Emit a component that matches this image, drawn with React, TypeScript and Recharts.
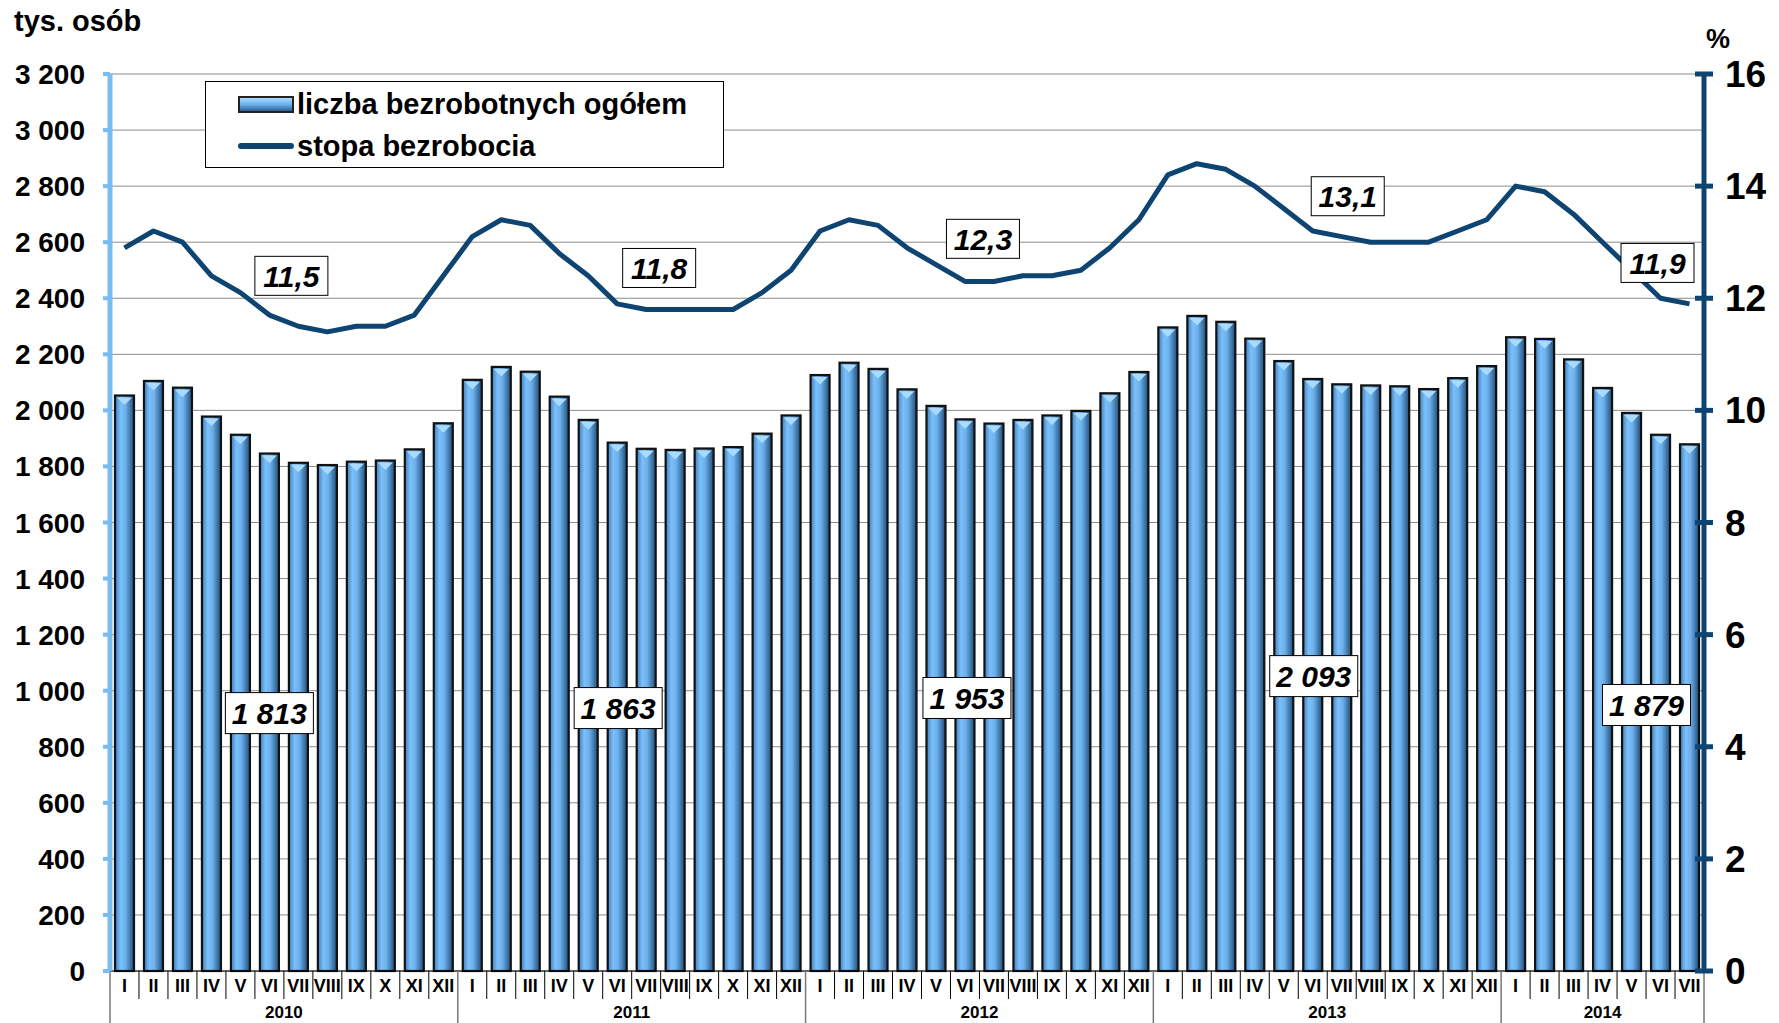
import { ComposedChart, Bar, Line, XAxis, YAxis, CartesianGrid, ReferenceDot } from 'recharts'

const months = ['I', 'II', 'III', 'IV', 'V', 'VI', 'VII', 'VIII', 'IX', 'X', 'XI', 'XII']
const years = ['2010', '2011', '2012', '2013', '2014']

// liczba bezrobotnych (tys. osób)
const bezrobotni2010 = [2053, 2105, 2081, 1978, 1913, 1846, 1813, 1805, 1817, 1821, 1861, 1954]
const bezrobotni2011 = [2109, 2155, 2138, 2049, 1966, 1885, 1863, 1859, 1864, 1869, 1917, 1982]
const bezrobotni2012 = [2126, 2170, 2148, 2075, 2016, 1968, 1953, 1966, 1982, 1998, 2061, 2137]
const bezrobotni2013 = [2296, 2337, 2316, 2256, 2176, 2112, 2093, 2089, 2086, 2076, 2115, 2158]
const bezrobotni2014 = [2261, 2255, 2182, 2080, 1991, 1913, 1879]

// stopa bezrobocia (%)
const stopa2010 = [12.9, 13.2, 13.0, 12.4, 12.1, 11.7, 11.5, 11.4, 11.5, 11.5, 11.7, 12.4]
const stopa2011 = [13.1, 13.4, 13.3, 12.8, 12.4, 11.9, 11.8, 11.8, 11.8, 11.8, 12.1, 12.5]
const stopa2012 = [13.2, 13.4, 13.3, 12.9, 12.6, 12.3, 12.3, 12.4, 12.4, 12.5, 12.9, 13.4]
const stopa2013 = [14.2, 14.4, 14.3, 14.0, 13.6, 13.2, 13.1, 13.0, 13.0, 13.0, 13.2, 13.4]
const stopa2014 = [14.0, 13.9, 13.5, 13.0, 12.5, 12.0, 11.9]

// lipcowe etykiety
const julyCounts = ['1 813', '1 863', '1 953', '2 093', '1 879']
const julyRates = ['11,5', '11,8', '12,3', '13,1', '11,9']

const leftTicks = [0, 200, 400, 600, 800, 1000, 1200, 1400, 1600, 1800, 2000, 2200, 2400, 2600, 2800, 3000, 3200]
const rightTicks = [0, 2, 4, 6, 8, 10, 12, 14, 16]

// where the boxes sit (axis units) and their horizontal shift
const rateBoxY = [12.4, 12.54, 13.06, 13.82, 12.63]
const rateBoxDx = [-7, 13, -11, 6, -32]
const countBoxY = [920, 938, 974, 1052, 949]
const countBoxDx = [-29, -28, -27, -28, -43]

const allCounts = [bezrobotni2010, bezrobotni2011, bezrobotni2012, bezrobotni2013, bezrobotni2014]
const allRates = [stopa2010, stopa2011, stopa2012, stopa2013, stopa2014]

const data = years.flatMap((yr, yi) =>
  allCounts[yi].map((v, mi) => ({
    key: `${yr}-${months[mi]}`,
    month: months[mi],
    yi,
    bezrobotni: v,
    stopa: allRates[yi][mi],
  }))
)

const W = 1779
const H = 1023
const PLOT_LEFT = 110
const PLOT_RIGHT = 1704
const BAND = (PLOT_RIGHT - PLOT_LEFT) / data.length

const FONT = '"Liberation Sans", Arial, sans-serif'
const NAVY = '#0e4472'
const LIGHT = '#79bcf2'

const fmt = (v: number) => String(v).replace(/\B(?=(\d{3})+(?!\d))/g, ' ')

function BarShape(props: any) {
  const { x, y, width, height } = props
  if (!height || height <= 0) return null
  const t = Math.min(9, width / 2 - 2)
  return (
    <g>
      <rect x={x} y={y} width={width} height={height} fill="url(#barGrad)" stroke="#111" strokeWidth={2.2} />
      <polygon
        points={`${x + 2},${y + 2} ${x + width - 2},${y + 2} ${x + width / 2},${y + 2 + t}`}
        fill="#a9dbff"
      />
    </g>
  )
}

function LeftTick({ x, y, payload }: any) {
  return (
    <g>
      <line x1={x - 7} x2={x} y1={y} y2={y} stroke={LIGHT} strokeWidth={4} />
      <text x={x - 25} y={y + 10} textAnchor="end" fontSize={28} fontWeight="bold" fontFamily={FONT} fill="#000">
        {fmt(payload.value)}
      </text>
    </g>
  )
}

function RightTick({ x, y, payload }: any) {
  return (
    <g>
      <line x1={x - 9} x2={x + 9} y1={y} y2={y} stroke={NAVY} strokeWidth={5} />
      <text x={x + 21} y={y + 13} textAnchor="start" fontSize={37} fontWeight="bold" fontFamily={FONT} fill="#000">
        {payload.value}
      </text>
    </g>
  )
}

function MonthTick({ x, y, index }: any) {
  const d = data[index]
  if (!d) return null
  const start = d.yi * 12
  const end = Math.min(start + 12, data.length)
  const center = (start + end - 1) / 2
  const isYearStart = index === start
  const isLast = index === data.length - 1
  const left = x - BAND / 2
  return (
    <g fontFamily={FONT} fontWeight="bold" fill="#000">
      <line x1={left} x2={left} y1={y} y2={isYearStart ? H : y + 28} stroke={isYearStart ? '#777' : '#000'} strokeWidth={isYearStart ? 1.5 : 1} />
      {isLast && <line x1={left + BAND} x2={left + BAND} y1={y} y2={H} stroke="#777" strokeWidth={1.5} />}
      <text x={x} y={y + 21} textAnchor="middle" fontSize={18}>{d.month}</text>
      {index === Math.floor(center) && (
        <text x={x + (center - Math.floor(center)) * BAND} y={y + 47} textAnchor="middle" fontSize={17}>
          {years[d.yi]}
        </text>
      )}
    </g>
  )
}

function makeBox(text: string, dx: number, w: number, h: number) {
  return (p: any) => {
    const cx = p.cx + dx
    const cy = p.cy
    return (
      <g>
        <rect x={cx - w / 2} y={cy - h / 2} width={w} height={h} fill="#fff" stroke="#000" strokeWidth={1} />
        <text x={cx} y={cy + 11} textAnchor="middle" fontSize={30} fontWeight="bold" fontStyle="italic" fontFamily={FONT} fill="#000">
          {text}
        </text>
      </g>
    )
  }
}

export default function App() {
  return (
    <div style={{ position: 'relative', width: W, height: H, background: '#fff', fontFamily: FONT }}>
      <style>{'body{margin:0}'}</style>
      <ComposedChart width={W} height={H} data={data} margin={{ top: 74, right: 0, bottom: 0, left: 0 }}>
        <defs>
          <linearGradient id="barGrad" x1="0" y1="0" x2="1" y2="0">
            <stop offset="0%" stopColor="#3f7fbd" />
            <stop offset="30%" stopColor="#7cc0fa" />
            <stop offset="55%" stopColor="#6cb0ec" />
            <stop offset="100%" stopColor="#1f4d78" />
          </linearGradient>
        </defs>
        <CartesianGrid yAxisId="left" vertical={false} stroke="#8c8c8c" strokeWidth={1} />
        <XAxis dataKey="key" height={52} interval={0} tickLine={false} tickSize={0} tickMargin={0}
          axisLine={{ stroke: '#000', strokeWidth: 1 }} tick={<MonthTick />} />
        <YAxis yAxisId="left" orientation="left" width={PLOT_LEFT} domain={[0, 3200]} ticks={leftTicks}
          interval={0} tickLine={false} tickSize={0} tickMargin={0}
          axisLine={{ stroke: LIGHT, strokeWidth: 5 }} tick={<LeftTick />} />
        <YAxis yAxisId="right" orientation="right" width={W - PLOT_RIGHT} domain={[0, 16]} ticks={rightTicks}
          interval={0} tickLine={false} tickSize={0} tickMargin={0}
          axisLine={{ stroke: NAVY, strokeWidth: 5 }} tick={<RightTick />} />
        <Bar yAxisId="left" dataKey="bezrobotni" barSize={19} shape={<BarShape />} isAnimationActive={false} />
        <Line yAxisId="right" dataKey="stopa" stroke={NAVY} strokeWidth={5} dot={false} activeDot={false}
          strokeLinejoin="round" isAnimationActive={false} />
        {years.map((yr, i) => (
          <ReferenceDot key={'r' + yr} yAxisId="right" x={`${yr}-VII`} y={rateBoxY[i]} r={0}
            ifOverflow="visible" shape={makeBox(julyRates[i], rateBoxDx[i], 73, 39)} />
        ))}
        {years.map((yr, i) => (
          <ReferenceDot key={'c' + yr} yAxisId="left" x={`${yr}-VII`} y={countBoxY[i]} r={0}
            ifOverflow="visible" shape={makeBox(julyCounts[i], countBoxDx[i], 88, 41)} />
        ))}
      </ComposedChart>

      <div style={{ position: 'absolute', left: 14, top: 4, fontSize: 29, fontWeight: 'bold', lineHeight: '34px' }}>tys. osób</div>
      <div style={{ position: 'absolute', left: 1706, top: 22, fontSize: 27, fontWeight: 'bold', lineHeight: '34px' }}>%</div>

      <div style={{
        position: 'absolute', left: 205, top: 81, width: 517, height: 85, background: '#fff',
        border: '1px solid #000', fontSize: 29, fontWeight: 'bold', lineHeight: '34px',
      }}>
        <div style={{ position: 'absolute', left: 32, top: 5, display: 'flex', alignItems: 'center', whiteSpace: 'nowrap' }}>
          <span style={{
            display: 'inline-block', width: 52, height: 13, border: '2px solid #222', marginRight: 3,
            background: 'linear-gradient(to bottom, #a9dbff 0%, #6cb0ec 50%, #2a5f90 100%)',
          }} />
          liczba bezrobotnych ogółem
        </div>
        <div style={{ position: 'absolute', left: 32, top: 47, display: 'flex', alignItems: 'center', whiteSpace: 'nowrap' }}>
          <span style={{ display: 'inline-block', width: 56, height: 6, borderRadius: 3, background: NAVY, marginRight: 3 }} />
          stopa bezrobocia
        </div>
      </div>
    </div>
  )
}
